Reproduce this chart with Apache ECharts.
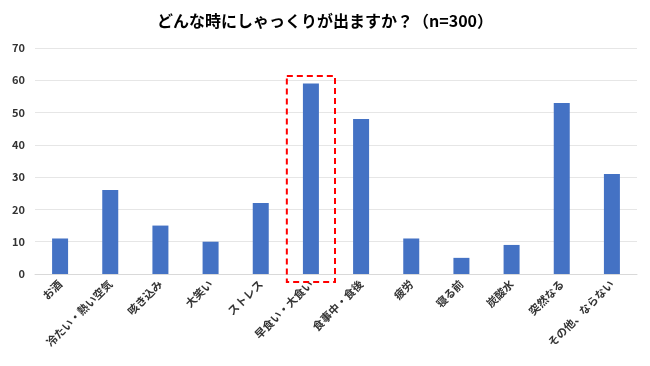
<!DOCTYPE html>
<html><head><meta charset="utf-8">
<script src="https://cdn.jsdelivr.net/npm/echarts@6/dist/echarts.min.js"></script>
<style>html,body{margin:0;padding:0;background:#fff}#c{width:650px;height:366px}</style>
</head><body><div id="c"></div>
<script>
const titleText = 'どんな時にしゃっくりが出ますか？（n=300）';
const categories = ['お酒','冷たい・熱い空気','咳き込み','大笑い','ストレス','早食い・大食い','食事中・食後','疲労','寝る前','炭酸水','突然なる','その他、ならない'];
const values = [11,26,15,10,22,59,48,11,5,9,53,31];
const highlightIndex = 5;
const highlightTop = 61.3;
const highlightBottom = -2.5;

const font = '"Noto Sans CJK JP", "Noto Sans", sans-serif';
const chart = echarts.init(document.getElementById('c'), null, {renderer:'canvas'});
chart.setOption({
  animation:false,
  backgroundColor:'#fff',
  title:{text:titleText,left:'center',top:8,textStyle:{fontFamily:font,fontSize:16,fontWeight:'bold',color:'#000'}},
  grid:{left:35,right:13,top:48,bottom:92,containLabel:false},
  xAxis:{type:'category',data:categories,
    axisLine:{show:true,lineStyle:{color:'#d9d9d9'}},axisTick:{show:false},
    axisLabel:{rotate:45,interval:0,fontFamily:font,fontSize:11,fontWeight:'bold',color:'#333',margin:8}},
  yAxis:{type:'value',min:0,max:70,interval:10,
    axisLine:{show:false},axisTick:{show:false},
    splitLine:{lineStyle:{color:'#e6e6e6'}},
    axisLabel:{fontFamily:font,fontSize:11,fontWeight:'bold',color:'#333',margin:10}},
  series:[{type:'bar',data:values,barWidth:16,itemStyle:{color:'#4472c4'}}]
});
const p1 = chart.convertToPixel({xAxisIndex:0,yAxisIndex:0},[highlightIndex,highlightTop]);
const p2 = chart.convertToPixel({xAxisIndex:0,yAxisIndex:0},[highlightIndex,highlightBottom]);
const bw = chart.getModel().getComponent('xAxis',0).axis.getBandWidth();
chart.setOption({graphic:[{type:'rect',shape:{x:p1[0]-bw/2+1,y:p1[1],width:bw-2,height:p2[1]-p1[1]},
  style:{fill:'none',stroke:'#ff0000',lineWidth:2,lineDash:[6,4]},z:10}]});
</script></body></html>
